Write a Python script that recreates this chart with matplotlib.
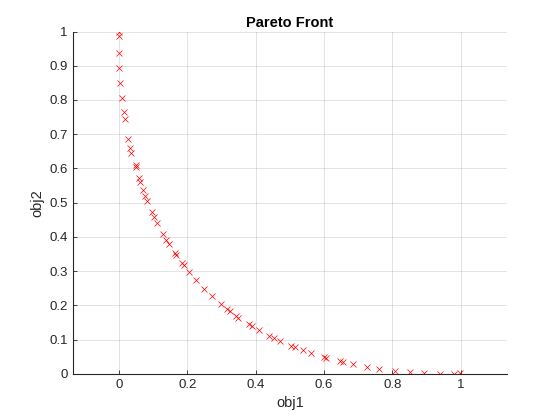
import numpy as np
import matplotlib
matplotlib.use('Agg')
import matplotlib.pyplot as plt

plt.rcParams['font.family'] = ['Liberation Sans', 'DejaVu Sans']

obj1 = [0.000, 0.000, 0.001, 0.000, 0.004, 0.010, 0.016, 0.018, 0.027, 0.033,
        0.036, 0.049, 0.051, 0.058, 0.062, 0.071, 0.078, 0.083, 0.096, 0.103,
        0.112, 0.129, 0.139, 0.146, 0.165, 0.168, 0.184, 0.190, 0.205, 0.226,
        0.249, 0.273, 0.299, 0.316, 0.325, 0.344, 0.350, 0.382, 0.390, 0.410,
        0.440, 0.455, 0.471, 0.503, 0.516, 0.538, 0.563, 0.599, 0.607, 0.647,
        0.657, 0.685, 0.726, 0.762, 0.807, 0.850, 0.893, 0.940, 0.980, 0.997]
obj2 = [1.000, 0.986, 0.938, 0.894, 0.850, 0.806, 0.765, 0.745, 0.686, 0.660,
        0.646, 0.609, 0.604, 0.572, 0.560, 0.537, 0.518, 0.506, 0.473, 0.457,
        0.440, 0.407, 0.391, 0.380, 0.352, 0.347, 0.325, 0.317, 0.298, 0.275,
        0.248, 0.226, 0.204, 0.189, 0.184, 0.169, 0.164, 0.145, 0.140, 0.128,
        0.110, 0.104, 0.096, 0.081, 0.079, 0.069, 0.060, 0.050, 0.046, 0.037,
        0.034, 0.029, 0.020, 0.014, 0.008, 0.005, 0.003, 0.000, 0.000, 0.002]

xticks = [0, 0.2, 0.4, 0.6, 0.8, 1]
yticks = [0, 0.1, 0.2, 0.3, 0.4, 0.5, 0.6, 0.7, 0.8, 0.9, 1]

dark = '#262626'
fig = plt.figure(figsize=(5.6, 4.2), dpi=100)
ax = fig.add_axes([0.13, 0.11, 0.775, 0.815])

ax.plot(obj1, obj2, 'x', color='red', markersize=5, mew=0.5)

ax.set_xlim(-0.1345, 1.1345)
ax.set_ylim(0, 1)
ax.set_xticks(xticks)
ax.set_yticks(yticks)
ax.set_xticklabels(['0', '0.2', '0.4', '0.6', '0.8', '1'])
ax.set_yticklabels(['0', '0.1', '0.2', '0.3', '0.4', '0.5', '0.6', '0.7', '0.8', '0.9', '1'])
ax.grid(True, color='#262626', alpha=0.15, linewidth=0.6)
ax.set_axisbelow(True)
ax.tick_params(direction='in', length=3, width=0.6, colors=dark, labelsize=9.5)
for s in ['top', 'right']:
    ax.spines[s].set_visible(False)
for s in ['left', 'bottom']:
    ax.spines[s].set_color(dark)
    ax.spines[s].set_linewidth(0.8)

ax.set_xlabel('obj1', fontsize=10.5, color=dark)
ax.set_ylabel('obj2', fontsize=10.5, color=dark)
ax.set_title('Pareto Front', fontsize=10.5, fontweight='bold', color='black', pad=3)

fig.savefig('out.png', dpi=100)
